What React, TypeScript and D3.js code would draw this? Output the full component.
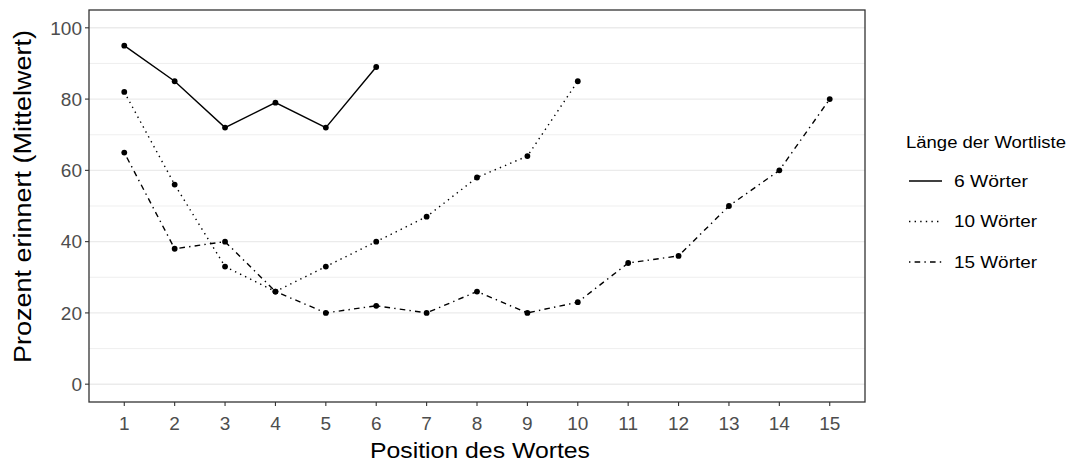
import React from "react";
import * as d3 from "d3";

const positions = [1, 2, 3, 4, 5, 6, 7, 8, 9, 10, 11, 12, 13, 14, 15];
const values6 = [95, 85, 72, 79, 72, 89];
const values10 = [82, 56, 33, 26, 33, 40, 47, 58, 64, 85];
const values15 = [65, 38, 40, 26, 20, 22, 20, 26, 20, 23, 34, 36, 50, 60, 80];
const seriesLabels = ["6 Wörter", "10 Wörter", "15 Wörter"];
const yTicks = [0, 20, 40, 60, 80, 100];
const yMinor = [10, 30, 50, 70, 90];

const W = 1070, H = 463;
const panel = { left: 89, right: 865, top: 10, bottom: 402 };
const LW = 1.4;
const dashes = ["none", `${LW} ${3 * LW}`, `${LW} ${3 * LW} ${4 * LW} ${3 * LW}`];
const FONT = "'Liberation Sans', Arial, sans-serif";
const legendWidths = [74, 83, 83];

export default function App() {
  const x = d3.scaleLinear().domain([1 - 0.7, 15 + 0.7]).range([panel.left, panel.right]);
  const y = d3.scaleLinear().domain([-5, 105]).range([panel.bottom, panel.top]);
  const series = [values6, values10, values15];
  const line = d3
    .line<number>()
    .x((_, i) => x(i + 1))
    .y((d) => y(d));

  return (
    <svg width={W} height={H} style={{ display: "block", position: "absolute", left: 0, top: 0 }} fontFamily={FONT}>
      <rect x={0} y={0} width={W} height={H} fill="#fff" />
      {[...yMinor, ...yTicks].map((t) => (
        <line key={"g" + t} x1={panel.left} x2={panel.right} y1={y(t)} y2={y(t)} stroke="#EBEBEB" strokeWidth={yTicks.includes(t) ? 1.4 : 0.8} />
      ))}
      {series.map((s, k) => (
        <g key={k}>
          <path d={line(s) || ""} fill="none" stroke="#000" strokeWidth={LW} strokeDasharray={dashes[k]} />
          {s.map((v, i) => (
            <circle key={i} cx={x(i + 1)} cy={y(v)} r={2.9} fill="#000" />
          ))}
        </g>
      ))}
      <rect x={panel.left} y={panel.top} width={panel.right - panel.left} height={panel.bottom - panel.top} fill="none" stroke="#333" strokeWidth={1.3} />
      {yTicks.map((t) => (
        <g key={"y" + t}>
          <line x1={panel.left - 4} x2={panel.left} y1={y(t)} y2={y(t)} stroke="#333" strokeWidth={1.1} />
          <text x={panel.left - 7} y={y(t)} dy="0.36em" textAnchor="end" fontSize={19} fill="#4D4D4D">{t}</text>
        </g>
      ))}
      {positions.map((p) => (
        <g key={"x" + p}>
          <line x1={x(p)} x2={x(p)} y1={panel.bottom} y2={panel.bottom + 4} stroke="#333" strokeWidth={1.1} />
          <text x={x(p)} y={430} textAnchor="middle" fontSize={19} fill="#4D4D4D">{p}</text>
        </g>
      ))}
      <text x={370} y={457.5} fontSize={22} fill="#000" textLength={220} lengthAdjust="spacingAndGlyphs">Position des Wortes</text>
      <text transform={`translate(30.5,363) rotate(-90)`} fontSize={23} fill="#000" textLength={333} lengthAdjust="spacingAndGlyphs">Prozent erinnert (Mittelwert)</text>
      <text x={906} y={147.5} fontSize={16} fill="#000" textLength={160} lengthAdjust="spacingAndGlyphs">Länge der Wortliste</text>
      {seriesLabels.map((lab, k) => {
        const yy = 181 + k * 40.5;
        return (
          <g key={lab}>
            <line x1={909} x2={942} y1={yy} y2={yy} stroke="#000" strokeWidth={LW} strokeDasharray={dashes[k]} />
            <text x={954} y={yy} dy="0.36em" fontSize={16} fill="#000" textLength={legendWidths[k]} lengthAdjust="spacingAndGlyphs">{lab}</text>
          </g>
        );
      })}
    </svg>
  );
}
